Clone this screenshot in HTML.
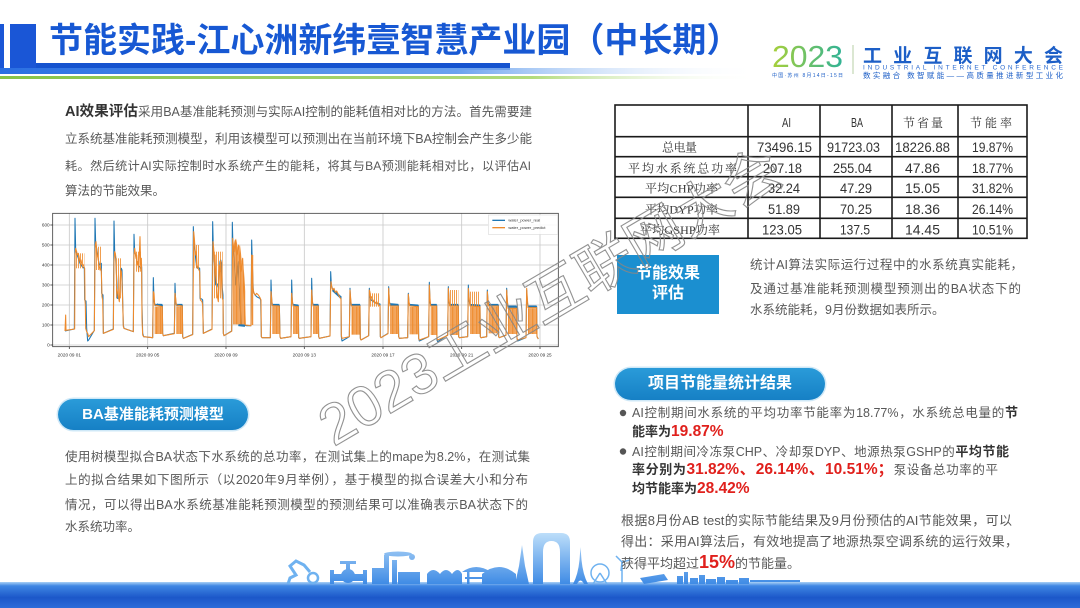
<!DOCTYPE html>
<html><head><meta charset="utf-8">
<style>
*{margin:0;padding:0;box-sizing:border-box}
body{width:1080px;height:608px;overflow:hidden;background:#fff;position:relative;font-family:"Liberation Sans","Noto Sans CJK SC",sans-serif;}
.t{position:absolute;font-size:12.5px;line-height:20px;height:20px;color:#585858;white-space:nowrap}
.j{white-space:normal;text-align:justify;text-align-last:justify;overflow:visible}
.h{font-size:14.5px;color:#333;font-weight:bold}
b{color:#333;font-weight:bold;font-size:13px}
.r{color:#e0201c;font-weight:bold;font-size:15.5px}
.pill{position:absolute;border-radius:16px;background:linear-gradient(#2a9bd9,#1680c5);color:#fff;font-weight:bold;text-align:center;box-shadow:0 0 0 1.5px #cfe8f7}
#bg,#wm{position:absolute;left:0;top:0}
#wm{z-index:10;pointer-events:none}
</style></head><body>
<svg id="bg" width="1080" height="608" viewBox="0 0 1080 608">
<defs>
<linearGradient id="band" x1="0" x2="1" y1="0" y2="0"><stop offset="0" stop-color="#2a6fe2"/><stop offset="0.6" stop-color="#6aa2ee"/><stop offset="1" stop-color="#ffffff" stop-opacity="0"/></linearGradient>
<linearGradient id="grn" x1="0" x2="1" y1="0" y2="0"><stop offset="0" stop-color="#86c447"/><stop offset="0.7" stop-color="#b2db7c"/><stop offset="1" stop-color="#ffffff" stop-opacity="0"/></linearGradient>
<linearGradient id="g23" x1="0" x2="1"><stop offset="0" stop-color="#a8d03a"/><stop offset="1" stop-color="#30b296"/></linearGradient>
<linearGradient id="sky" gradientUnits="userSpaceOnUse" x1="0" y1="530" x2="0" y2="586"><stop offset="0" stop-color="#c4e3fb"/><stop offset="1" stop-color="#3a88e4"/></linearGradient>
<linearGradient id="bot" x1="0" y1="0" x2="0" y2="1"><stop offset="0" stop-color="#a9d0f6"/><stop offset="0.15" stop-color="#3f86e3"/><stop offset="0.6" stop-color="#1c57c9"/><stop offset="1" stop-color="#2d6cd9"/></linearGradient>
<pattern id="st" width="4" height="8" patternUnits="userSpaceOnUse"><rect width="3.3" height="8" fill="#ee8a2c"/></pattern>
<pattern id="st2" width="6" height="8" patternUnits="userSpaceOnUse"><rect width="2.5" height="8" fill="#ee8a2c"/></pattern>
</defs>
<!-- title bars -->
<rect x="0" y="24" width="4" height="48" fill="#1a56d6"/>
<rect x="10" y="24" width="26" height="48" fill="#1a56d6"/>
<rect x="36" y="63" width="474" height="7" fill="#1553cf"/>
<rect x="0" y="68" width="760" height="6" fill="url(#band)"/>
<rect x="0" y="76" width="760" height="3" fill="url(#grn)"/>
<!-- logo -->
<text x="772" y="67" font-size="31" fill="url(#g23)" font-family="Liberation Sans" textLength="71" lengthAdjust="spacingAndGlyphs">2023</text>
<line x1="853" y1="45" x2="853" y2="74" stroke="#b7cfa6" stroke-width="1"/>
<text x="863" y="62" font-size="19" font-weight="bold" fill="#1d5fc7" font-family="Liberation Sans,Noto Sans CJK SC,sans-serif" textLength="200" lengthAdjust="spacing">工业互联网大会</text>
<text x="863" y="69.5" font-size="6.5" fill="#2a6ad0" font-family="Liberation Sans" textLength="200" lengthAdjust="spacing">INDUSTRIAL INTERNET CONFERENCE</text>
<text x="863" y="78" font-size="7.5" fill="#1d5fc7" font-family="Liberation Sans,Noto Sans CJK SC,sans-serif" textLength="200" lengthAdjust="spacing">数实融合 数智赋能——高质量推进新型工业化</text>
<text x="772" y="77" font-size="5" fill="#1d5fc7" font-family="Liberation Sans,Noto Sans CJK SC,sans-serif" textLength="71" lengthAdjust="spacing">中国·苏州 8月14日-15日</text>
<!-- table -->
<g stroke="#1a1a1a" stroke-width="1.6" fill="none">
<rect x="615" y="105" width="412" height="133.3"/>
<line x1="748" y1="105" x2="748" y2="238.3"/><line x1="820" y1="105" x2="820" y2="238.3"/>
<line x1="892" y1="105" x2="892" y2="238.3"/><line x1="958" y1="105" x2="958" y2="238.3"/>
<line x1="615" y1="136.7" x2="1027" y2="136.7"/><line x1="615" y1="156.7" x2="1027" y2="156.7"/>
<line x1="615" y1="176.7" x2="1027" y2="176.7"/><line x1="615" y1="197.3" x2="1027" y2="197.3"/>
<line x1="615" y1="218.3" x2="1027" y2="218.3"/>
</g>
<g font-family="Liberation Sans" font-size="14" fill="#333">
<text x="782" y="127" textLength="9" lengthAdjust="spacingAndGlyphs" font-size="13">AI</text>
<text x="851" y="127" textLength="12" lengthAdjust="spacingAndGlyphs" font-size="13">BA</text>
<text x="757" y="152" textLength="55" lengthAdjust="spacingAndGlyphs">73496.15</text>
<text x="827" y="152" textLength="53" lengthAdjust="spacingAndGlyphs">91723.03</text>
<text x="895" y="152" textLength="55" lengthAdjust="spacingAndGlyphs">18226.88</text>
<text x="972" y="152" textLength="41" lengthAdjust="spacingAndGlyphs">19.87%</text>
<text x="763" y="173" textLength="39" lengthAdjust="spacingAndGlyphs">207.18</text>
<text x="833" y="173" textLength="39" lengthAdjust="spacingAndGlyphs">255.04</text>
<text x="905" y="173" textLength="35" lengthAdjust="spacingAndGlyphs">47.86</text>
<text x="972" y="173" textLength="41" lengthAdjust="spacingAndGlyphs">18.77%</text>
<text x="768" y="193" textLength="32" lengthAdjust="spacingAndGlyphs">32.24</text>
<text x="840" y="193" textLength="32" lengthAdjust="spacingAndGlyphs">47.29</text>
<text x="905" y="193" textLength="35" lengthAdjust="spacingAndGlyphs">15.05</text>
<text x="972" y="193" textLength="41" lengthAdjust="spacingAndGlyphs">31.82%</text>
<text x="768" y="214" textLength="32" lengthAdjust="spacingAndGlyphs">51.89</text>
<text x="840" y="214" textLength="32" lengthAdjust="spacingAndGlyphs">70.25</text>
<text x="905" y="214" textLength="35" lengthAdjust="spacingAndGlyphs">18.36</text>
<text x="972" y="214" textLength="41" lengthAdjust="spacingAndGlyphs">26.14%</text>
<text x="762" y="234.5" textLength="40" lengthAdjust="spacingAndGlyphs">123.05</text>
<text x="840" y="234.5" textLength="30" lengthAdjust="spacingAndGlyphs">137.5</text>
<text x="905" y="234.5" textLength="35" lengthAdjust="spacingAndGlyphs">14.45</text>
<text x="972" y="234.5" textLength="41" lengthAdjust="spacingAndGlyphs">10.51%</text>
</g>
<g font-family="Liberation Serif,Noto Serif CJK SC,serif" font-size="12" fill="#333">
<text x="903" y="127" textLength="40" lengthAdjust="spacing">节省量</text>
<text x="970" y="127" textLength="42" lengthAdjust="spacing">节能率</text>
<text x="662" y="151.5" textLength="35" lengthAdjust="spacing">总电量</text>
<text x="628" y="172.5" textLength="109" lengthAdjust="spacing">平均水系统总功率</text>
<text x="645" y="192.5" textLength="73" lengthAdjust="spacing">平均CHP功率</text>
<text x="645" y="213.5" textLength="73" lengthAdjust="spacing">平均DYP功率</text>
<text x="640" y="234" textLength="80" lengthAdjust="spacing">平均GSHP功率</text>
</g>
<!-- chart -->
<svg x="40" y="205" width="560" height="160" viewBox="0 0 1680 480">
<rect x="38" y="25" width="1517" height="400" fill="#fff"/>
<g stroke="#cacaca" stroke-width="2.5">
<line x1="38" y1="60" x2="1555" y2="60"/><line x1="38" y1="120" x2="1555" y2="120"/><line x1="38" y1="180" x2="1555" y2="180"/>
<line x1="38" y1="240" x2="1555" y2="240"/><line x1="38" y1="300" x2="1555" y2="300"/><line x1="38" y1="360" x2="1555" y2="360"/><line x1="38" y1="420" x2="1555" y2="420"/>
<line x1="88" y1="25" x2="88" y2="425"/><line x1="323" y1="25" x2="323" y2="425"/><line x1="558" y1="25" x2="558" y2="425"/>
<line x1="793" y1="25" x2="793" y2="425"/><line x1="1029" y1="25" x2="1029" y2="425"/><line x1="1265" y1="25" x2="1265" y2="425"/><line x1="1500" y1="25" x2="1500" y2="425"/>
</g>
<g stroke="#444" stroke-width="2.5">
<line x1="88" y1="425" x2="88" y2="432"/><line x1="323" y1="425" x2="323" y2="432"/><line x1="558" y1="425" x2="558" y2="432"/><line x1="793" y1="425" x2="793" y2="432"/><line x1="1029" y1="425" x2="1029" y2="432"/><line x1="1265" y1="425" x2="1265" y2="432"/><line x1="1500" y1="425" x2="1500" y2="432"/>
<line x1="31" y1="60" x2="38" y2="60"/><line x1="31" y1="120" x2="38" y2="120"/><line x1="31" y1="180" x2="38" y2="180"/><line x1="31" y1="240" x2="38" y2="240"/><line x1="31" y1="300" x2="38" y2="300"/><line x1="31" y1="360" x2="38" y2="360"/><line x1="31" y1="420" x2="38" y2="420"/>
</g>
<g font-family="Liberation Sans" font-size="14" fill="#333" text-anchor="end">
<text x="29" y="65">600</text><text x="29" y="125">500</text><text x="29" y="185">400</text><text x="29" y="245">300</text><text x="29" y="305">200</text><text x="29" y="365">100</text><text x="29" y="425">0</text>
</g>
<g font-family="Liberation Sans" font-size="14" fill="#333" text-anchor="middle">
<text x="88" y="454">2020 09 01</text><text x="323" y="454">2020 09 05</text><text x="558" y="454">2020 09 09</text><text x="793" y="454">2020 09 13</text><text x="1029" y="454">2020 09 17</text><text x="1265" y="454">2020 09 21</text><text x="1500" y="454">2020 09 25</text>
</g>
<!-- blue real -->
<path fill="none" stroke="#1f77b4" stroke-width="3.2" stroke-linejoin="round" d="M75,378 L103,372 L105,40 L107,135 L110,145 L115,160 L120,175 L125,183 L130,188 L133,190 L134,285 L138,288 L140,370 L143,408 L146,405 L163,376 L165,40 L167,115 L170,130 L173,150 L176,170 L179,180 L182,178 L184,175 L185,265 L189,270 L190,385 L220,372 L222,48 L224,140 L227,160 L229,200 L231,240 L232,280 L236,280 L238,285 L240,270 L242,200 L244,190 L246,195 L248,285 L250,360 L252,370 L280,380 L282,88 L284,140 L287,150 L290,165 L293,175 L296,180 L298,185 L300,185 L303,190 L305,185 L306,300 L308,385 L311,395 L338,398 L340,218 L342,285 L344,300 L347,298 L350,300 L353,297 L356,300 L360,298 L364,300 L367,300 L368,385 L370,392 L403,385 L405,235 L407,290 L409,300 L427,300 L428,395 L430,400 L458,388 L460,65 L462,120 L465,140 L468,170 L470,185 L473,190 L476,188 L479,190 L480,280 L485,282 L488,285 L490,385 L516,372 L518,50 L520,130 L522,160 L525,200 L527,240 L530,235 L533,240 L536,250 L538,200 L540,170 L542,165 L545,175 L547,250 L549,270 L550,385 L552,392 L575,378 L577,52 L579,130 L582,160 L585,200 L588,240 L591,200 L594,170 L597,230 L600,280 L603,360 L606,362 L610,360 L620,362 L633,362 L635,105 L637,180 L640,260 L645,270 L650,275 L655,278 L660,280 L662,285 L664,395 L666,398 L691,398 L693,225 L695,285 L697,300 L718,300 L720,395 L722,400 L753,395 L755,225 L757,290 L759,300 L775,302 L776,398 L778,400 L813,395 L815,220 L817,290 L819,300 L835,300 L836,395 L838,400 L870,393 L872,200 L874,240 L877,250 L880,255 L885,260 L890,265 L895,270 L900,275 L903,278 L904,395 L906,408 L928,395 L930,250 L932,290 L934,300 L960,300 L961,400 L963,405 L986,392 L988,250 L990,275 L993,285 L1000,290 L1010,295 L1020,297 L1021,395 L1023,398 L1044,385 L1046,245 L1048,290 L1050,298 L1075,300 L1076,395 L1078,400 L1103,398 L1105,265 L1107,295 L1109,300 L1135,302 L1136,400 L1138,408 L1166,395 L1168,232 L1170,290 L1172,300 L1190,300 L1191,405 L1193,410 L1223,390 L1225,245 L1227,290 L1229,300 L1255,300 L1256,395 L1258,398 L1283,395 L1285,240 L1287,285 L1290,300 L1320,302 L1321,395 L1323,398 L1340,395 L1342,255 L1344,290 L1346,300 L1375,300 L1376,395 L1378,398 L1398,390 L1400,250 L1402,290 L1404,305 L1430,305 L1431,400 L1433,408 L1458,398 L1460,255 L1462,290 L1464,305 L1490,305 L1491,395 L1495,402"/>
<path fill="none" stroke="#1f77b4" stroke-width="7" d="M344,300 L367,300 M409,300 L427,300 M697,300 L718,300 M759,300 L775,302 M819,300 L835,300 M934,300 L960,300 M1050,298 L1075,300 M1109,300 L1135,302 M1172,300 L1190,300 M1229,300 L1255,300 M1290,300 L1320,302 M1346,300 L1375,300 M1404,305 L1430,305 M1464,305 L1490,305 M878,255 L903,278 M595,360 L615,362"/>
<!-- orange dense regions -->
<g fill="url(#st)">
<rect x="344" y="305" width="23" height="82"/><rect x="409" y="304" width="18" height="83"/>
<path d="M579,135 L583,110 L588,100 L594,130 L600,120 L606,170 L612,200 L616,260 L616,358 L579,358 Z"/>
<rect x="635" y="150" width="5" height="210"/>
<rect x="697" y="304" width="21" height="83"/><rect x="759" y="305" width="16" height="82"/><rect x="819" y="305" width="16" height="82"/>
<rect x="934" y="305" width="26" height="84"/><rect x="1050" y="305" width="25" height="82"/><rect x="1109" y="306" width="26" height="82"/>
<rect x="1172" y="305" width="18" height="85"/><rect x="1229" y="305" width="26" height="85"/><rect x="1290" y="305" width="30" height="82"/>
<rect x="1346" y="305" width="29" height="80"/><rect x="1404" y="310" width="26" height="77"/><rect x="1464" y="310" width="26" height="77"/>
</g>
<g fill="url(#st2)">
<rect x="107" y="145" width="26" height="45"/><rect x="167" y="125" width="17" height="70"/><rect x="226" y="160" width="20" height="120"/>
<rect x="285" y="140" width="20" height="60"/><rect x="463" y="120" width="17" height="70"/><rect x="520" y="140" width="28" height="140"/>
<rect x="1287" y="260" width="33" height="45"/><rect x="1227" y="255" width="28" height="50"/><rect x="990" y="265" width="30" height="40"/>
</g>
<!-- orange predict -->
<path fill="none" stroke="#ee8a2c" stroke-width="3.2" stroke-linejoin="round" d="M75,378 L77,330 L78,376 L104,372 L105,150 L107,130 L110,140 L112,150 L115,145 L118,160 L120,170 L123,165 L126,180 L129,178 L132,185 L134,190 L135,285 L136,300 L137,370 L140,380 L143,385 L146,395 L163,377 L165,160 L166,120 L168,110 L170,135 L172,150 L175,165 L177,180 L180,195 L182,190 L184,200 L186,275 L188,285 L190,385 L220,373 L222,170 L224,140 L226,145 L228,160 L230,250 L232,260 L234,270 L236,280 L238,290 L240,240 L242,195 L244,200 L246,230 L248,290 L250,365 L252,370 L280,380 L282,150 L284,130 L286,145 L288,160 L290,150 L292,180 L294,170 L296,200 L298,150 L300,95 L302,180 L304,160 L305,200 L306,340 L308,390 L311,395 L338,398 L340,260 L342,265 L344,300 L367,305 L368,385 L370,392 L403,386 L405,265 L407,280 L409,300 L427,303 L428,395 L430,400 L458,389 L460,200 L461,80 L463,100 L465,130 L467,150 L469,140 L471,180 L474,190 L477,195 L479,200 L481,285 L486,290 L488,300 L490,385 L516,373 L518,200 L519,110 L521,130 L523,170 L525,150 L527,210 L529,230 L531,260 L533,280 L535,290 L537,240 L539,180 L541,200 L543,170 L545,240 L547,280 L549,285 L550,385 L552,392 L575,379 L577,200 L578,100 L582,140 L586,105 L590,150 L596,120 L602,200 L608,160 L612,250 L616,360 L633,362 L635,150 L637,170 L639,250 L642,265 L646,270 L650,265 L655,270 L660,278 L663,285 L664,395 L666,398 L691,398 L693,260 L695,280 L697,302 L718,303 L720,395 L722,400 L753,395 L755,265 L757,285 L759,303 L775,305 L776,398 L778,400 L813,395 L815,255 L817,285 L819,303 L835,303 L836,395 L838,400 L870,393 L872,250 L873,230 L875,245 L878,255 L882,250 L886,262 L890,258 L895,268 L900,278 L903,282 L904,390 L906,400 L928,395 L930,255 L932,280 L934,303 L960,303 L961,400 L963,405 L986,392 L988,255 L990,262 L992,280 L995,275 L998,290 L1002,285 L1006,295 L1010,290 L1015,300 L1020,302 L1021,395 L1023,398 L1044,386 L1046,250 L1048,285 L1050,303 L1075,303 L1076,395 L1078,400 L1103,398 L1105,268 L1107,290 L1109,303 L1135,305 L1136,400 L1138,405 L1166,395 L1168,240 L1170,280 L1172,303 L1190,303 L1191,400 L1193,405 L1223,391 L1225,250 L1227,280 L1229,303 L1255,303 L1256,395 L1258,398 L1283,395 L1285,250 L1287,275 L1290,303 L1320,305 L1321,395 L1323,398 L1340,395 L1342,260 L1344,285 L1346,303 L1375,303 L1376,395 L1378,398 L1398,391 L1400,255 L1402,285 L1404,310 L1430,310 L1431,400 L1433,405 L1458,398 L1460,250 L1462,280 L1464,308 L1490,308 L1491,395 L1495,402"/>
<rect x="38" y="25" width="1517" height="400" fill="none" stroke="#444" stroke-width="2.5"/>
<rect x="1345" y="30" width="208" height="58" fill="#fff" fill-opacity="0.85" stroke="#ddd" stroke-width="2"/>
<line x1="1357" y1="46" x2="1395" y2="46" stroke="#1f77b4" stroke-width="4"/>
<line x1="1357" y1="68" x2="1395" y2="68" stroke="#ee8a2c" stroke-width="4"/>
<text x="1405" y="50" font-family="Liberation Sans" font-size="12" fill="#333">water_power_real</text>
<text x="1405" y="72" font-family="Liberation Sans" font-size="12" fill="#333">water_power_predict</text>
</svg>
<!-- bottom band & skyline -->
<rect x="0" y="582" width="1080" height="26" fill="url(#bot)"/>
<g fill="url(#sky)" stroke="none">
<path d="M288,584 L290,578 L296,575 L290,566 L296,561 L304,565 L310,572" fill="none" stroke="#6fb2f0" stroke-width="3"/>
<circle cx="313" cy="578" r="5" fill="none" stroke="#6fb2f0" stroke-width="2.5"/>
<rect x="330" y="574" width="37" height="7"/><circle cx="348" cy="576" r="7"/><rect x="346" y="563" width="4" height="8"/><rect x="340" y="561" width="16" height="3"/>
<rect x="330" y="570" width="4" height="14"/><rect x="363" y="570" width="4" height="14"/>
<rect x="372" y="568" width="12" height="16"/><rect x="384" y="555" width="5" height="29"/><rect x="392" y="560" width="5" height="24"/><rect x="398" y="572" width="22" height="12"/>
<ellipse cx="398" cy="554" rx="14" ry="2.5"/><circle cx="412" cy="557" r="3"/>
<path d="M427,584 L427,574 Q433,566 440,574 Q446,566 452,574 Q458,566 462,574 L462,584 Z"/>
<path d="M462,572 Q476,562 491,572 Z"/><rect x="467" y="572" width="2.5" height="12"/><rect x="485" y="572" width="2.5" height="12"/><rect x="465" y="577" width="24" height="2"/>
<path d="M482,584 L482,574 Q499,560 516,574 L516,584 Z"/>
<path d="M515,584 L519,566 L521,552 L522,545 L523,552 L525,566 L529,584 Z"/>
<path d="M533,584 L533,542 Q533,533 542,533 L561,533 Q570,533 570,542 L570,584 L560,584 L560,552 Q560,541 551.5,541 Q543,541 543,552 L543,584 Z"/>
<path d="M573,584 Q578,575 579.5,560 L580.5,547 L581.5,560 Q583,575 588,584 L584,584 Q580.5,577 577,584 Z"/>
<circle cx="600" cy="573" r="9" fill="none" stroke="#6fb2f0" stroke-width="1.5"/>
<path d="M600,573 L593,584 M600,573 L607,584 M622,584 L622,562 M622,562 L616,556 M622,562 L630,560 M622,562 L621,571" fill="none" stroke="#6fb2f0" stroke-width="1.5"/>
<polygon points="640,578 664,574 668,580 644,584"/>
<rect x="677" y="576" width="6" height="8"/><rect x="684" y="572" width="4" height="12"/><rect x="690" y="578" width="8" height="6"/><rect x="699" y="575" width="6" height="9"/>
<rect x="706" y="579" width="10" height="5"/><rect x="717" y="577" width="8" height="7"/><rect x="726" y="580" width="12" height="4"/><rect x="739" y="578" width="10" height="6"/>
<rect x="750" y="580" width="50" height="2"/>
</g>
<circle cx="623" cy="413" r="3.2" fill="#555"/>
<circle cx="623" cy="451.5" r="3.2" fill="#555"/>
</svg>

<div class="t" style="left:49px;top:24px;font-size:34px;line-height:34px;height:34px;font-weight:bold;color:#1758d3">节能实践-江心洲新纬壹智慧产业园（中长期）</div>

<div class="t j" style="left:65px;top:101.5px;width:467px"><span class="h">AI效果评估</span>采用BA基准能耗预测与实际AI控制的能耗值相对比的方法。首先需要建</div>
<div class="t j" style="left:65px;top:129px;width:467px">立系统基准能耗预测模型，利用该模型可以预测出在当前环境下BA控制会产生多少能</div>
<div class="t j" style="left:65px;top:156px;width:466px;font-size:12.1px">耗。然后统计AI实际控制时水系统产生的能耗，将其与BA预测能耗相对比，以评估AI</div>
<div class="t" style="left:65px;top:181px">算法的节能效果。</div>

<div class="pill" style="left:617px;top:255px;width:102px;height:59px;border-radius:0;box-shadow:none;background:#1b8fd0;font-size:16px;line-height:20px;padding-top:8.5px">节能效果<br>评估</div>
<div class="t j" style="left:750px;top:255px;width:273px">统计AI算法实际运行过程中的水系统真实能耗，</div>
<div class="t j" style="left:750px;top:278.5px;width:271px">及通过基准能耗预测模型预测出的BA状态下的</div>
<div class="t" style="left:750px;top:300px">水系统能耗，9月份数据如表所示。</div>

<div class="pill" style="left:615px;top:368px;width:210px;height:32px;font-size:16px;line-height:32px">项目节能量统计结果</div>
<div class="t j" style="left:632px;top:403px;width:386px">AI控制期间水系统的平均功率节能率为18.77%，水系统总电量的<b>节</b></div>
<div class="t" style="left:632px;top:422px"><b>能率为</b><span class="r">19.87%</span></div>
<div class="t j" style="left:632px;top:441.5px;width:377px">AI控制期间冷冻泵CHP、冷却泵DYP、地源热泵GSHP的<b>平均节能</b></div>
<div class="t j" style="left:632px;top:460px;width:366px"><b>率分别为</b><span class="r">31.82%、26.14%、10.51%；</span>泵设备总功率的平</div>
<div class="t" style="left:632px;top:479px"><b>均节能率为</b><span class="r">28.42%</span></div>

<div class="t j" style="left:621px;top:511px;width:391px;font-size:13px">根据8月份AB test的实际节能结果及9月份预估的AI节能效果，可以</div>
<div class="t j" style="left:621px;top:531.5px;width:397px;font-size:13px">得出：采用AI算法后，有效地提高了地源热泵空调系统的运行效果，</div>
<div class="t" style="left:621px;top:552px;font-size:13px">获得平均超过<span class="r" style="font-size:18px">15%</span>的节能量。</div>

<div class="pill" style="left:58px;top:399px;width:190px;height:31px;font-size:15px;line-height:31px">BA基准能耗预测模型</div>
<div class="t j" style="left:65px;top:447px;width:465px">使用树模型拟合BA状态下水系统的总功率，在测试集上的mape为8.2%，在测试集</div>
<div class="t j" style="left:65px;top:470px;width:463px">上的拟合结果如下图所示（以2020年9月举例），基于模型的拟合误差大小和分布</div>
<div class="t j" style="left:65px;top:495px;width:463px">情况，可以得出BA水系统基准能耗预测模型的预测结果可以准确表示BA状态下的</div>
<div class="t" style="left:65px;top:517px">水系统功率。</div>

<svg id="wm" width="1080" height="608" viewBox="0 0 1080 608">
<text transform="translate(333.6,447) rotate(-30.5)" font-family="Liberation Sans,Noto Sans CJK SC,sans-serif" font-size="57" fill="none" stroke="#868686" stroke-width="1.1" stroke-opacity="0.9">2023工业互联网大会</text>
</svg>
</body></html>
